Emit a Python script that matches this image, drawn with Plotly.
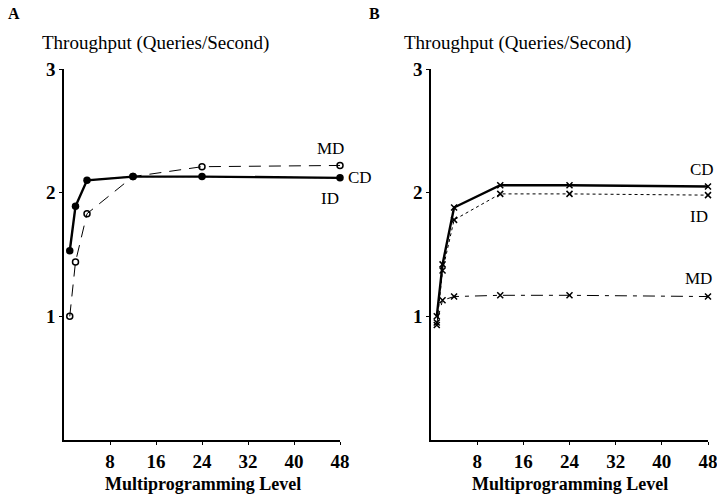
import plotly.graph_objects as go

levels = [1, 2, 4, 12, 24, 48]
a_cd = [1.53, 1.89, 2.10, 2.13, 2.13, 2.12]
a_id = [1.53, 1.89, 2.10, 2.13, 2.13, 2.12]
a_md = [1.00, 1.44, 1.83, 2.13, 2.21, 2.22]
b_cd = [1.00, 1.42, 1.88, 2.06, 2.06, 2.05]
b_id = [0.93, 1.37, 1.78, 1.99, 1.99, 1.98]
b_md = [0.95, 1.13, 1.16, 1.17, 1.17, 1.16]
x_ticks = [8, 16, 24, 32, 40, 48]
y_ticks = [1, 2, 3]

SERIF = "Liberation Serif"
fig = go.Figure()

# Panel A
fig.add_trace(go.Scatter(x=levels, y=a_md, mode="lines+markers", xaxis="x", yaxis="y",
                         line=dict(color="black", width=1, dash="12px,8px"),
                         marker=dict(symbol="circle-open", size=6, color="black", line=dict(width=1.5)),
                         cliponaxis=False, showlegend=False))
fig.add_trace(go.Scatter(x=levels, y=a_id, mode="lines", xaxis="x", yaxis="y",
                         line=dict(color="black", width=1, dash="dot"),
                         cliponaxis=False, showlegend=False))
fig.add_trace(go.Scatter(x=levels, y=a_cd, mode="lines+markers", xaxis="x", yaxis="y",
                         line=dict(color="black", width=2.4),
                         marker=dict(symbol="circle", size=7.5, color="black"),
                         cliponaxis=False, showlegend=False))

# Panel B
fig.add_trace(go.Scatter(x=levels, y=b_md, mode="lines+markers", xaxis="x2", yaxis="y2",
                         line=dict(color="black", width=1, dash="12px,6px,4px,6px"),
                         marker=dict(symbol="x-thin", size=6, color="black", line=dict(width=1.5, color="black")),
                         cliponaxis=False, showlegend=False))
fig.add_trace(go.Scatter(x=levels, y=b_id, mode="lines+markers", xaxis="x2", yaxis="y2",
                         line=dict(color="black", width=1, dash="3px,3px"),
                         marker=dict(symbol="x-thin", size=6, color="black", line=dict(width=1.5, color="black")),
                         cliponaxis=False, showlegend=False))
fig.add_trace(go.Scatter(x=levels, y=b_cd, mode="lines+markers", xaxis="x2", yaxis="y2",
                         line=dict(color="black", width=2.4),
                         marker=dict(symbol="x-thin", size=6, color="black", line=dict(width=1.5, color="black")),
                         cliponaxis=False, showlegend=False))

axis_common = dict(showgrid=False, zeroline=False, showline=True, linecolor="black", linewidth=1.5,
                   ticks="outside", ticklen=3, tickcolor="black", tickwidth=1.2, automargin=False,
                   ticklabeloverflow="allow",
                   tickfont=dict(family=SERIF, size=19, color="black", weight="bold"))
xcommon = dict(axis_common, range=[0, 48], tickvals=x_ticks, ticktext=[str(v) for v in x_ticks])
ycommon = dict(axis_common, range=[0, 3], tickvals=y_ticks, ticktext=[str(v) for v in y_ticks])

fig.update_layout(
    width=717, height=495,
    margin=dict(l=0, r=0, t=0, b=0, autoexpand=False),
    paper_bgcolor="white", plot_bgcolor="white",
    xaxis=dict(xcommon, domain=[64/717, 340/717], anchor="y"),
    yaxis=dict(ycommon, domain=[1-440/495, 1-69/495], anchor="x"),
    xaxis2=dict(xcommon, domain=[431/717, 708/717], anchor="y2"),
    yaxis2=dict(ycommon, domain=[1-440/495, 1-69/495], anchor="x2"),
)

ann = []
for letter, xp in [("A", 14/717), ("B", 374/717)]:
    ann.append(dict(text=f"<b>{letter}</b>", x=xp, y=1-14/495, xref="paper", yref="paper",
                    xanchor="center", yanchor="middle", showarrow=False,
                    font=dict(family=SERIF, size=16, color="black")))
for xp in [40/717, 402/717]:
    ann.append(dict(text="Throughput (Queries/Second)", x=xp, y=1-43/495, xref="paper", yref="paper",
                    xanchor="left", yanchor="middle", showarrow=False,
                    font=dict(family=SERIF, size=19, color="black")))
for xp in [203/717, 570/717]:
    ann.append(dict(text="<b>Multiprogramming Level</b>", x=xp, y=1-484/495, xref="paper", yref="paper",
                    xanchor="center", yanchor="middle", showarrow=False,
                    font=dict(family=SERIF, size=18, color="black")))

labels = [
    ("MD", 46.3, 2.36, "x", "y"), ("ID", 46.3, 1.95, "x", "y"),
    ("CD", 47.0, 2.19, "x2", "y2"), ("ID", 46.4, 1.81, "x2", "y2"), ("MD", 46.4, 1.31, "x2", "y2"),
]
for txt, xv, yv, xr, yr in labels:
    ann.append(dict(text=txt, x=xv, y=yv, xref=xr, yref=yr, xanchor="center", yanchor="middle",
                    showarrow=False, font=dict(family=SERIF, size=17, color="black")))
# CD label of panel A sits just past the axis end
ann.append(dict(text="CD", x=346/717, y=2.12, xref="paper", yref="y", xanchor="left", yanchor="middle",
                showarrow=False, font=dict(family=SERIF, size=17, color="black")))
fig.update_layout(annotations=ann)

fig.write_html("out.html")
